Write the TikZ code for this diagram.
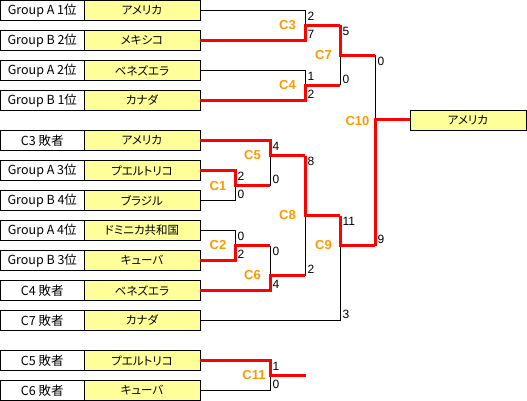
\documentclass[tikz,border=0pt]{standalone}
\usepackage{fontspec}
\setmainfont{Noto Sans CJK JP}
\newfontfamily\jpname{Noto Sans CJK JP}[RawFeature=+palt]
\newfontfamily\latfont{Liberation Sans}
\definecolor{teamyellow}{HTML}{FFFF99}
\definecolor{mlabcol}{HTML}{FF9900}
\definecolor{winred}{HTML}{FF0000}
\tikzset{
  slotbox/.style={draw=black, line width=0.8pt, minimum width=83.5pt, minimum height=20pt, inner sep=0pt, font=\fontsize{12.5}{14}\selectfont},
  teambox/.style={draw=black, line width=0.8pt, fill=teamyellow, minimum width=116pt, minimum height=20pt, inner sep=0pt, font=\jpname\fontsize{11.5}{13}\selectfont},
  matchlab/.style={text=mlabcol, font=\latfont\bfseries\fontsize{13}{15}\selectfont, inner sep=0pt},
  scoretop/.style={anchor=north west, inner xsep=2.5pt, inner ysep=1.5pt, font=\latfont\fontsize{12}{13}\selectfont},
  scorebot/.style={anchor=south west, inner xsep=2.5pt, inner ysep=2pt, font=\latfont\fontsize{12}{13}\selectfont},
  loseline/.style={draw=black, line width=0.8pt},
  winline/.style={draw=winred, line width=3pt, line join=miter},
}
\begin{document}
\begin{tikzpicture}[x=1pt,y=-1pt]
\useasboundingbox (0,0) rectangle (527,401);
% slot boxes
\node[slotbox] (s1) at (42.25,10.5) {Group A 1位};
\node[slotbox] (s2) at (42.25,40.5) {Group B 2位};
\node[slotbox] (s3) at (42.25,70.5) {Group A 2位};
\node[slotbox] (s4) at (42.25,100.5) {Group B 1位};
\node[slotbox] (s5) at (42.25,140.5) {C3 敗者};
\node[slotbox] (s6) at (42.25,170.5) {Group A 3位};
\node[slotbox] (s7) at (42.25,200.5) {Group B 4位};
\node[slotbox] (s8) at (42.25,230.5) {Group A 4位};
\node[slotbox] (s9) at (42.25,260.5) {Group B 3位};
\node[slotbox] (s10) at (42.25,290.5) {C4 敗者};
\node[slotbox] (s11) at (42.25,320.5) {C7 敗者};
\node[slotbox] (s12) at (42.25,360.5) {C5 敗者};
\node[slotbox] (s13) at (42.25,390.5) {C6 敗者};
% team boxes
\node[teambox] (m1) at (142,10.5) {アメリカ};
\node[teambox] (m2) at (142,40.5) {メキシコ};
\node[teambox] (m3) at (142,70.5) {ベネズエラ};
\node[teambox] (m4) at (142,100.5) {カナダ};
\node[teambox] (m5) at (142,140.5) {アメリカ};
\node[teambox] (m6) at (142,170.5) {プエルトリコ};
\node[teambox] (m7) at (142,200.5) {ブラジル};
\node[teambox] (m8) at (142,230.5) {ドミニカ共和国};
\node[teambox] (m9) at (142,260.5) {キューバ};
\node[teambox] (m10) at (142,290.5) {ベネズエラ};
\node[teambox] (m11) at (142,320.5) {カナダ};
\node[teambox] (m12) at (142,360.5) {プエルトリコ};
\node[teambox] (m13) at (142,390.5) {キューバ};
\node[teambox] (champ) at (468,120) {アメリカ};
% junction coordinates
\coordinate (c3t) at (305,10.5);  \coordinate (c3b) at (305,40.5);  \coordinate (c3o) at (305,25.5);
\coordinate (c4t) at (305,70.5);  \coordinate (c4b) at (305,100.5); \coordinate (c4o) at (305,85.5);
\coordinate (c7t) at (340,25.5);  \coordinate (c7b) at (340,85.5);  \coordinate (c7o) at (340,55.5);
\coordinate (c1t) at (235,170.5); \coordinate (c1b) at (235,200.5); \coordinate (c1o) at (235,185.5);
\coordinate (c2t) at (235,230.5); \coordinate (c2b) at (235,260.5); \coordinate (c2o) at (235,245.5);
\coordinate (c5t) at (270,140.5); \coordinate (c5b) at (270,185.5); \coordinate (c5o) at (270,155.5);
\coordinate (c6t) at (270,245.5); \coordinate (c6b) at (270,290.5); \coordinate (c6o) at (270,275.5);
\coordinate (c8t) at (305,155.5); \coordinate (c8b) at (305,275.5); \coordinate (c8o) at (305,215.5);
\coordinate (c9t) at (340,215.5); \coordinate (c9b) at (340,320.5); \coordinate (c9o) at (340,245.5);
\coordinate (c10t) at (375,55.5); \coordinate (c10b) at (375,245.5); \coordinate (c10o) at (375,120);
\coordinate (c11t) at (270,360.5); \coordinate (c11b) at (270,390.5); \coordinate (c11o) at (270,375.5);
\coordinate (c11end) at (306,375.5);
% losing lines
\draw[loseline] (m1.east) -- (c3t) -- (c3o);
\draw[loseline] (m3.east) -- (c4t) -- (c4o);
\draw[loseline] (c7b) -- (c7o);
\draw[loseline] (c10t) -- (c10o);
\draw[loseline] (m7.east) -- (c1b) -- (c1o);
\draw[loseline] (m8.east) -- (c2t) -- (c2o);
\draw[loseline] (c5b) -- (c5o);
\draw[loseline] (c6t) -- (c6o);
\draw[loseline] (c8b) -- (c8o);
\draw[loseline] (m11.east) -- (c9b) -- (c9o);
\draw[loseline] (m13.east) -- (c11b) -- (c11o);
% winning lines
\draw[winline] (m2.east) -- (c3b) -- (c3o) -- (c7t);
\draw[winline] (m4.east) -- (c4b) -- (c4o) -- (c7b);
\draw[winline] (c7t) -- (c7o) -- (c10t);
\draw[winline] (m6.east) -- (c1t) -- (c1o) -- (c5b);
\draw[winline] (m9.east) -- (c2b) -- (c2o) -- (c6t);
\draw[winline] (m5.east) -- (c5t) -- (c5o) -- (c8t);
\draw[winline] (m10.east) -- (c6b) -- (c6o) -- (c8b);
\draw[winline] (c8t) -- (c8o) -- (c9t);
\draw[winline] (c9t) -- (c9o) -- (c10b);
\draw[winline] (c10b) -- (c10o) -- (champ.west);
\draw[winline] (m12.east) -- (c11t) -- (c11o) -- (c11end);
% match labels
\node[matchlab] (l3) at (287.5,25.5) {C3};
\node[matchlab] (l4) at (287.5,85.5) {C4};
\node[matchlab] (l7) at (323.5,55.5) {C7};
\node[matchlab] (l10) at (357.5,121) {C10};
\node[matchlab] (l5) at (252.5,155.5) {C5};
\node[matchlab] (l1) at (218,186) {C1};
\node[matchlab] (l2) at (218,245.5) {C2};
\node[matchlab] (l6) at (252.5,275.5) {C6};
\node[matchlab] (l8) at (287.5,215.5) {C8};
\node[matchlab] (l9) at (323.5,245.5) {C9};
\node[matchlab] (l11) at (254,375.5) {C11};
% scores
\node[scoretop] (p3a) at (c3t) {2};
\node[scorebot] (p3b) at (c3b) {7};
\node[scoretop] (p4a) at (c4t) {1};
\node[scorebot] (p4b) at (c4b) {2};
\node[scoretop] (p7a) at (c7t) {5};
\node[scorebot] (p7b) at (c7b) {0};
\node[scoretop] (p10a) at (c10t) {0};
\node[scorebot] (p10b) at (c10b) {9};
\node[scoretop] (p1a) at (c1t) {2};
\node[scorebot] (p1b) at (c1b) {0};
\node[scoretop] (p2a) at (c2t) {0};
\node[scorebot] (p2b) at (c2b) {2};
\node[scoretop] (p5a) at (c5t) {4};
\node[scorebot] (p5b) at (c5b) {0};
\node[scoretop] (p6a) at (c6t) {0};
\node[scorebot] (p6b) at (c6b) {4};
\node[scoretop] (p8a) at (c8t) {8};
\node[scorebot] (p8b) at (c8b) {2};
\node[scoretop] (p9a) at (c9t) {11};
\node[scorebot] (p9b) at (c9b) {3};
\node[scoretop] (p11a) at (c11t) {1};
\node[scorebot] (p11b) at (c11b) {0};
\end{tikzpicture}
\end{document}
